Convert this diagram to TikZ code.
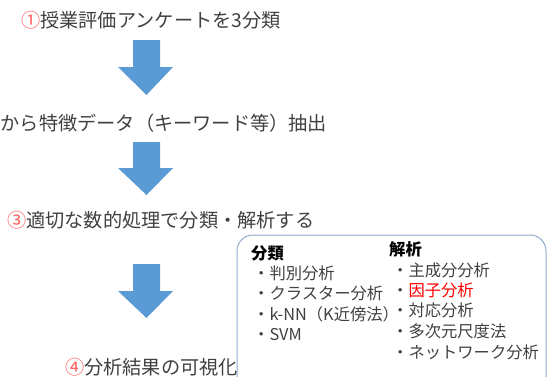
\documentclass[tikz,border=0pt]{standalone}
\usepackage{fontspec}
\setmainfont{Noto Sans CJK JP}
\definecolor{txt}{HTML}{404040}
\definecolor{arrowblue}{HTML}{5B9BD5}
\definecolor{boxline}{HTML}{8FAACC}
\definecolor{numred}{HTML}{FF5A5A}
\begin{document}
\begin{tikzpicture}[x=1pt,y=-1pt,
  big/.style={font=\fontsize{19.2}{21}\selectfont, text=txt, inner sep=0pt},
  item/.style={font=\fontsize{16.3}{18}\selectfont, text=txt, inner sep=0pt, anchor=west},
  head/.style={font=\fontsize{16.3}{18}\selectfont\bfseries, text=black, inner sep=0pt, anchor=west},
  downarrow/.style={fill=arrowblue, draw=none}]
\useasboundingbox (0,0) rectangle (547,376);
% rounded box
\draw[boxline, line width=1pt, rounded corners=16pt] (237,235) rectangle (546,392);
% lines
\node[big, anchor=west] (s1) at (21,20) {\textcolor{numred}{①}授業評価アンケートを3分類};
\node[big, anchor=west] (s2) at (0.5,123) {から特徴データ（キーワード等）抽出};
\node[big, anchor=west] (s3) at (7,220) {\textcolor{numred}{③}適切な数的処理で分類・解析する};
\node[big, anchor=west] (s4) at (65,367) {\textcolor{numred}{④}分析結果の可視化};
% arrows
\foreach \t/\h/\b in {40/67/95, 142/168/195, 264/291/318}{
  \fill[downarrow] (133,\t) -- (160,\t) -- (160,\h) -- (173,\h) -- (146.5,\b) -- (118,\h) -- (133,\h) -- cycle;
}
% box content left
\node[head] (h1) at (251,253) {分類};
\node[item] (a1) at (253,273) {・判別分析};
\node[item] (a2) at (253,293) {・クラスター分析};
\node[item] (a3) at (253,314) {・k-NN（K近傍法）};
\node[item] (a4) at (253,335) {・SVM};
% box content right
\node[head] (h2) at (389,249) {解析};
\node[item] (b1) at (392,270) {・主成分分析};
\node[item] (b2) at (392,290) {・\textcolor{red}{因子分析}};
\node[item] (b3) at (392,310) {・対応分析};
\node[item] (b4) at (392,331) {・多次元尺度法};
\node[item] (b5) at (392,352) {・ネットワーク分析};
\end{tikzpicture}
\end{document}
